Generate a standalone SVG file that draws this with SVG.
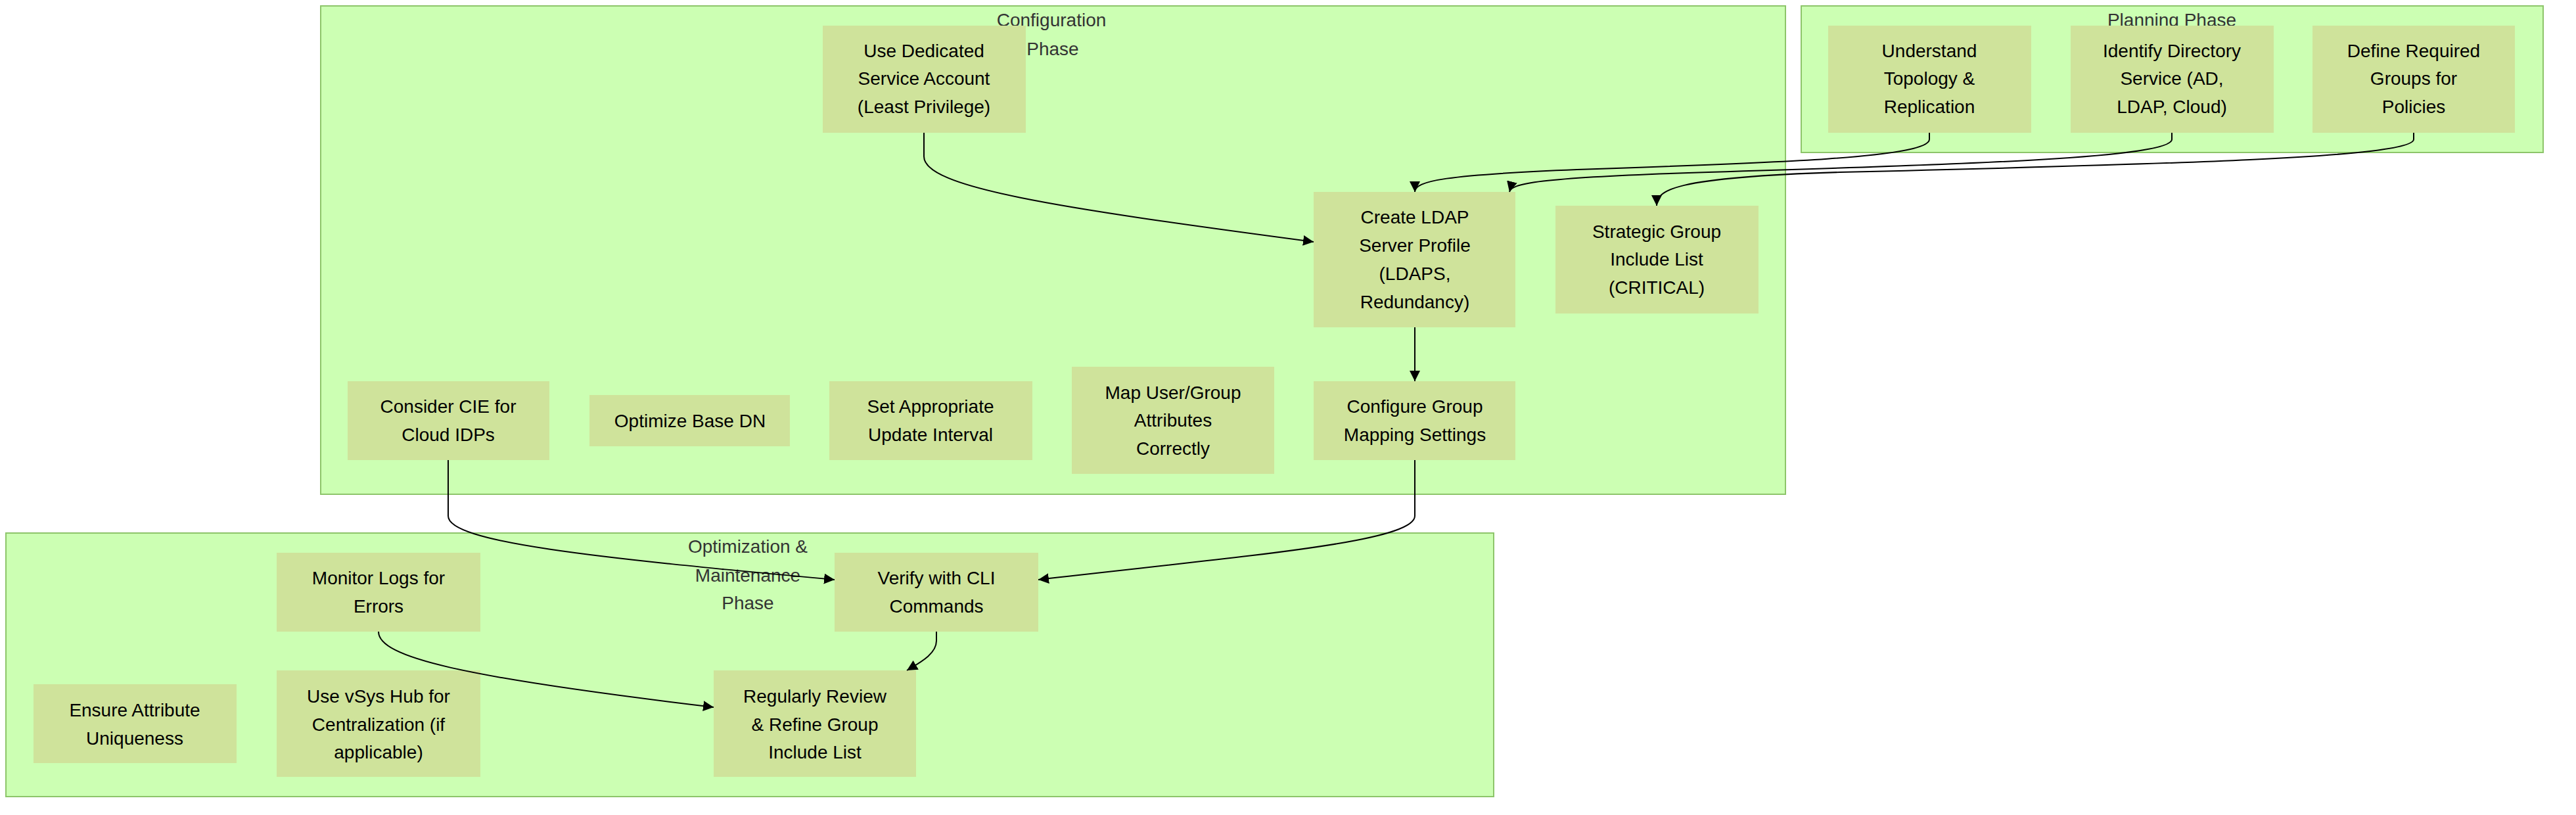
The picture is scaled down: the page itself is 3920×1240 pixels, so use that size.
<svg xmlns="http://www.w3.org/2000/svg" width="3920" height="1240" viewBox="0 0 3920 1240">
<style>
.cl{fill:#ccffb3;stroke:#8dc56a;stroke-width:2}
.nd{fill:#cfe39b;stroke:none}
.t{font-family:"Liberation Sans",Arial,sans-serif;font-size:28px;fill:#000;text-anchor:middle}
.ct{font-family:"Liberation Sans",Arial,sans-serif;font-size:28px;fill:#333;text-anchor:middle}
.e{fill:none;stroke:#000;stroke-width:2}
</style>
<defs><marker id="a" markerUnits="userSpaceOnUse" markerWidth="16" markerHeight="16" viewBox="0 0 10 10" refX="10" refY="5" orient="auto"><path d="M0,0L10,5L0,10z" fill="#000"/></marker></defs>
<g id="cluster-config"><rect class="cl" x="488" y="9" width="2229" height="743"/><text class="ct" x="1600" y="40">Configuration</text><text class="ct" x="1602" y="84">Phase</text></g>
<g id="cluster-planning"><rect class="cl" x="2741" y="9" width="1129" height="223"/><text class="ct" x="3305" y="40">Planning Phase</text></g>
<g id="cluster-opt"><rect class="cl" x="9" y="811" width="2264" height="401"/><text class="ct" x="1138" y="841">Optimization &amp;</text><text class="ct" x="1138" y="885">Maintenance</text><text class="ct" x="1138" y="927">Phase</text></g>
<g id="n-dedicated"><rect class="nd" x="1252" y="39" width="309" height="163"/><text class="t" x="1406" y="87">Use Dedicated</text><text class="t" x="1406" y="129">Service Account</text><text class="t" x="1406" y="172">(Least Privilege)</text></g>
<g id="n-cie"><rect class="nd" x="529" y="580" width="307" height="120"/><text class="t" x="682" y="628">Consider CIE for</text><text class="t" x="682" y="671">Cloud IDPs</text></g>
<g id="n-basedn"><rect class="nd" x="897" y="601" width="305" height="78"/><text class="t" x="1050" y="650">Optimize Base DN</text></g>
<g id="n-interval"><rect class="nd" x="1262" y="580" width="309" height="120"/><text class="t" x="1416" y="628">Set Appropriate</text><text class="t" x="1416" y="671">Update Interval</text></g>
<g id="n-attrs"><rect class="nd" x="1631" y="558" width="308" height="163"/><text class="t" x="1785" y="607">Map User/Group</text><text class="t" x="1785" y="649">Attributes</text><text class="t" x="1785" y="692">Correctly</text></g>
<g id="n-ldap"><rect class="nd" x="1999" y="292" width="307" height="206"/><text class="t" x="2153" y="340">Create LDAP</text><text class="t" x="2153" y="383">Server Profile</text><text class="t" x="2153" y="426">(LDAPS,</text><text class="t" x="2153" y="469">Redundancy)</text></g>
<g id="n-strategic"><rect class="nd" x="2367" y="313" width="309" height="164"/><text class="t" x="2521" y="362">Strategic Group</text><text class="t" x="2521" y="404">Include List</text><text class="t" x="2521" y="447">(CRITICAL)</text></g>
<g id="n-mapping"><rect class="nd" x="1999" y="580" width="307" height="120"/><text class="t" x="2153" y="628">Configure Group</text><text class="t" x="2153" y="671">Mapping Settings</text></g>
<g id="n-topology"><rect class="nd" x="2782" y="39" width="309" height="163"/><text class="t" x="2936" y="87">Understand</text><text class="t" x="2936" y="129">Topology &amp;</text><text class="t" x="2936" y="172">Replication</text></g>
<g id="n-directory"><rect class="nd" x="3151" y="39" width="309" height="163"/><text class="t" x="3305" y="87">Identify Directory</text><text class="t" x="3305" y="129">Service (AD,</text><text class="t" x="3305" y="172">LDAP, Cloud)</text></g>
<g id="n-groups"><rect class="nd" x="3519" y="39" width="308" height="163"/><text class="t" x="3673" y="87">Define Required</text><text class="t" x="3673" y="129">Groups for</text><text class="t" x="3673" y="172">Policies</text></g>
<g id="n-monitor"><rect class="nd" x="421" y="841" width="310" height="120"/><text class="t" x="576" y="889">Monitor Logs for</text><text class="t" x="576" y="932">Errors</text></g>
<g id="n-verify"><rect class="nd" x="1270" y="841" width="310" height="120"/><text class="t" x="1425" y="889">Verify with CLI</text><text class="t" x="1425" y="932">Commands</text></g>
<g id="n-unique"><rect class="nd" x="51" y="1041" width="309" height="120"/><text class="t" x="205" y="1090">Ensure Attribute</text><text class="t" x="205" y="1133">Uniqueness</text></g>
<g id="n-vsys"><rect class="nd" x="421" y="1020" width="310" height="162"/><text class="t" x="576" y="1069">Use vSys Hub for</text><text class="t" x="576" y="1112">Centralization (if</text><text class="t" x="576" y="1154">applicable)</text></g>
<g id="n-review"><rect class="nd" x="1086" y="1020" width="308" height="162"/><text class="t" x="1240" y="1069">Regularly Review</text><text class="t" x="1240" y="1112">&amp; Refine Group</text><text class="t" x="1240" y="1154">Include List</text></g>
<g id="connectors">
<path class="e" marker-end="url(#a)" d="M1406,202V238C1406,285 1600,315 1999,368"/>
<path class="e" marker-end="url(#a)" d="M2936,202V212C2936,240 2700,248 2400,258C2200,266 2153,275 2153,292"/>
<path class="e" marker-end="url(#a)" d="M3305,202V212C3305,240 3000,250 2600,262C2330,270 2300,280 2297,292"/>
<path class="e" marker-end="url(#a)" d="M3673,202V212C3673,240 3300,250 2800,262C2540,270 2521,290 2521,313"/>
<path class="e" marker-end="url(#a)" d="M2153,498V580"/>
<path class="e" marker-end="url(#a)" d="M682,700V785C682,825 900,848 1270,882"/>
<path class="e" marker-end="url(#a)" d="M2153,700V785C2153,825 1900,845 1580,882"/>
<path class="e" marker-end="url(#a)" d="M1425,961V975C1425,995 1400,1008 1380,1020"/>
<path class="e" marker-end="url(#a)" d="M576,961C576,1000 700,1030 1086,1076"/>
</g>
</svg>
